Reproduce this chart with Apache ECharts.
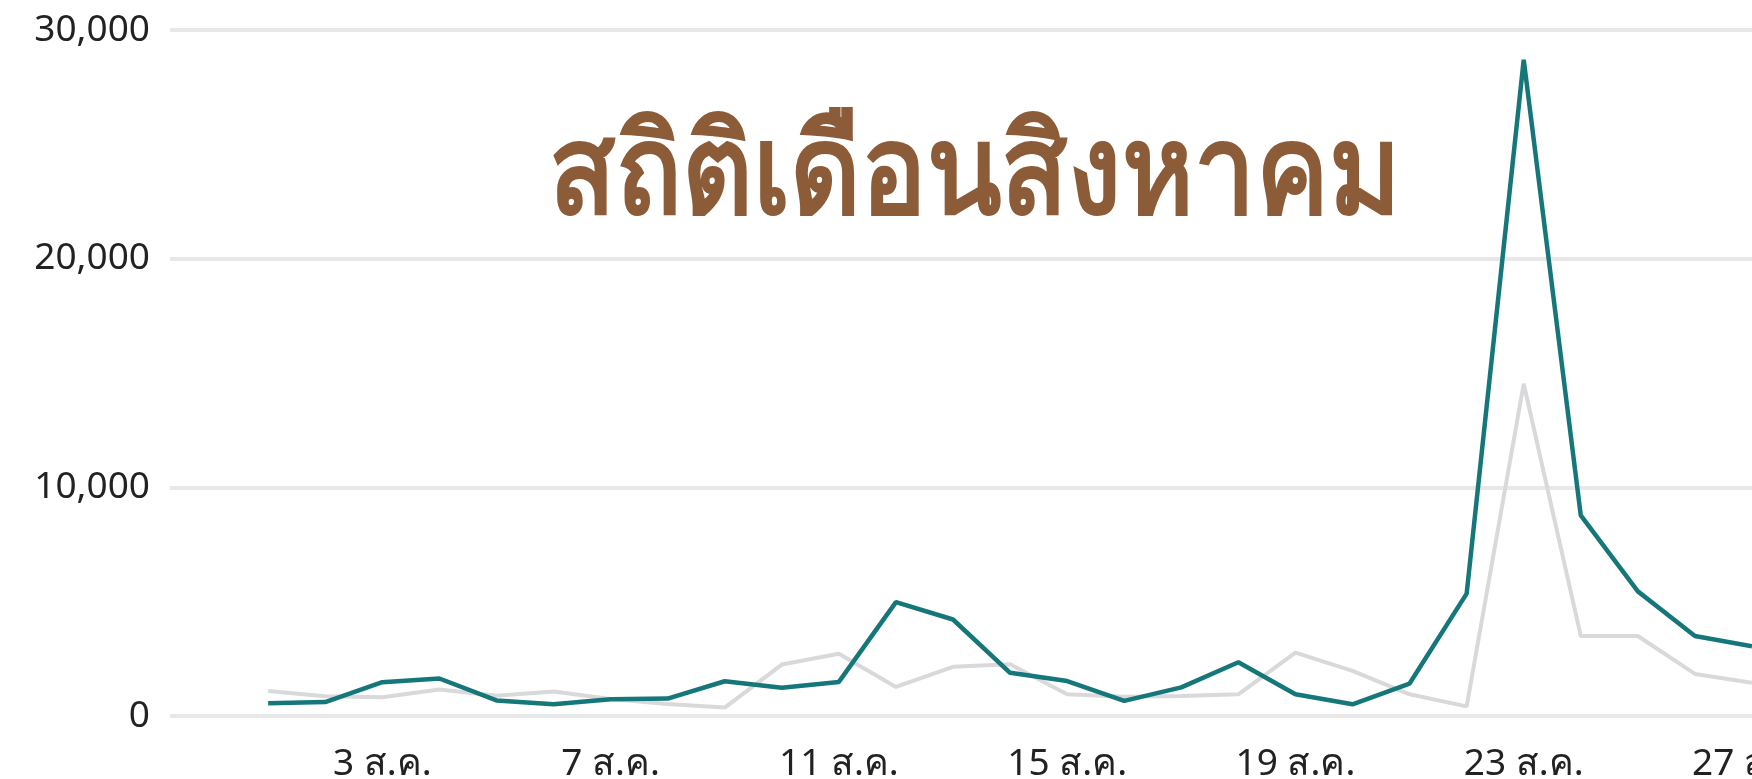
<!DOCTYPE html>
<html>
<head>
<meta charset="utf-8">
<script src="https://cdn.jsdelivr.net/npm/echarts@6/dist/echarts.min.js"></script>
<style>
html,body{margin:0;padding:0;background:#fff;overflow:hidden;}
#chart{width:1752px;height:779px;}
</style>
</head>
<body>
<div id="chart"></div>
<script>
var titleText = 'สถิติเดือนสิงหาคม';
var days = [1,2,3,4,5,6,7,8,9,10,11,12,13,14,15,16,17,18,19,20,21,22,23,24,25,26,27];
var currentValues = [560,610,1480,1640,680,510,730,760,1520,1240,1490,4980,4220,1890,1530,660,1250,2350,950,510,1420,5350,28700,8770,5450,3500,3050];
var previousValues = [1090,860,820,1160,890,1070,740,520,370,2250,2720,1270,2150,2260,950,840,870,950,2770,1970,950,420,14530,3500,3500,1840,1450];
var xTickDays = [3,7,11,15,19,23,27];
var yTicks = [0,10000,20000,30000];
var monthAbbr = 'ส.ค.';

function pairs(vals){ return days.map(function(d,i){ return [d, vals[i]]; }); }

var chart = echarts.init(document.getElementById('chart'), null, {renderer:'canvas'});
chart.setOption({
  animation:false,
  backgroundColor:'#ffffff',
  grid:{left:170,right:0,top:30,bottom:63,containLabel:false,outerBoundsMode:'none'},
  xAxis:{
    type:'value', min:-0.72, max:27,
    axisLine:{show:false}, axisTick:{show:false}, splitLine:{show:false},
    axisLabel:{
      customValues:xTickDays,
      formatter:function(v){ return v + ' ' + monthAbbr; },
      fontSize:37, color:'#222', margin:30,
      hideOverlap:false,
      fontFamily:'"Noto Sans", "DejaVu Sans", sans-serif'
    }
  },
  yAxis:{
    type:'value', min:yTicks[0], max:yTicks[yTicks.length-1], interval:10000,
    axisLine:{show:false}, axisTick:{show:false},
    splitLine:{show:true, lineStyle:{color:'#e8e8e8', width:4}},
    axisLabel:{fontSize:37, color:'#222', margin:20,
      fontFamily:'"Noto Sans", "DejaVu Sans", sans-serif',
      formatter:function(v){ return v.toLocaleString('en-US'); }}
  },
  graphic:[{
    type:'text', x:975, y:178, scaleX:0.88, z:10,
    style:{text:titleText, fill:'#8c5b37', fontSize:124, fontWeight:'bold',
      align:'center', verticalAlign:'middle',
      fontFamily:'"Noto Sans", "DejaVu Sans", sans-serif'}
  }],
  series:[
    {type:'line', data:pairs(previousValues), symbol:'none', z:2,
     lineStyle:{color:'#d9d9dc', width:4}},
    {type:'line', data:pairs(currentValues), symbol:'none', z:3,
     lineStyle:{color:'#16777a', width:4.5}}
  ]
});
</script>
</body>
</html>
